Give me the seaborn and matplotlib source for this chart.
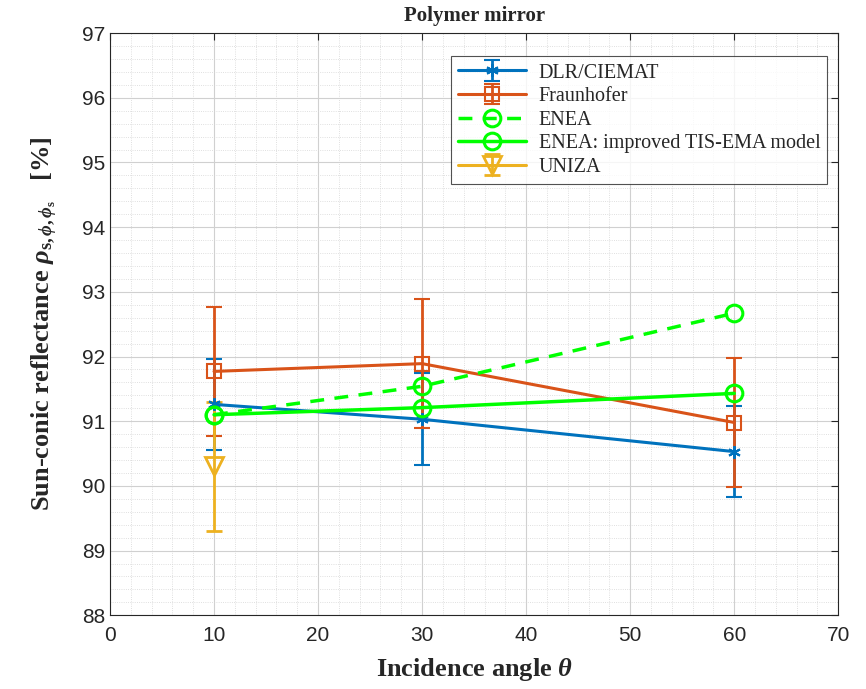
import numpy as np
import pandas as pd
import matplotlib
matplotlib.use("Agg")
import matplotlib.pyplot as plt
from matplotlib.ticker import MultipleLocator
import seaborn as sns

# values
angles = [10, 30, 60]
dlr = [91.26, 91.03, 90.53]
dlr_err = [0.70, 0.71, 0.70]
fraunhofer = [91.77, 91.89, 90.98]
fraunhofer_err = [1.0, 1.0, 1.0]
enea = [91.10, 91.54, 92.67]
enea_tis = [91.10, 91.21, 91.43]
uniza_angle = [10]
uniza = [90.30]
uniza_err = [1.0]

c_blue = "#0072BD"
c_orange = "#D95319"
c_green = "#00FF00"
c_yellow = "#EDB120"

sns.set_style("white")
plt.rcParams["font.family"] = ["Liberation Sans", "DejaVu Sans"]
plt.rcParams["mathtext.fontset"] = "custom"
plt.rcParams["mathtext.rm"] = "Liberation Serif:bold"
plt.rcParams["mathtext.it"] = "Liberation Serif:italic:bold"
plt.rcParams["mathtext.bf"] = "Liberation Serif:bold"

fig = plt.figure(figsize=(8.66, 6.89), dpi=100)
ax = fig.add_axes([0.127, 0.107, 0.841, 0.845])

lw = 2.2
ax.errorbar(angles, dlr, yerr=dlr_err, color=c_blue, lw=lw, marker=(6, 2, 0),
            ms=9, mew=1.5, capsize=6, capthick=2, elinewidth=2, label="DLR/CIEMAT", zorder=3)
ax.errorbar(angles, fraunhofer, yerr=fraunhofer_err, color=c_orange, lw=lw, marker="s",
            ms=10, mfc="none", mew=1.5, capsize=6, capthick=2, elinewidth=2,
            label="Fraunhofer", zorder=3)

df_enea = pd.DataFrame({"angle": angles, "val": enea})
df_tis = pd.DataFrame({"angle": angles, "val": enea_tis})
sns.lineplot(data=df_enea, x="angle", y="val", ax=ax, color=c_green, lw=2.5,
             linestyle=(0, (4, 3)), marker="o", ms=12, mfc="none", mec=c_green, mew=2.2,
             label="ENEA", zorder=4)
sns.lineplot(data=df_tis, x="angle", y="val", ax=ax, color=c_green, lw=2.5,
             marker="o", ms=12, mfc="none", mec=c_green, mew=2.2,
             label="ENEA: improved TIS-EMA model", zorder=4)

ax.errorbar(uniza_angle, uniza, yerr=uniza_err, color=c_yellow, lw=lw, marker="v",
            ms=13, mfc="none", mew=2, capsize=6, capthick=2, elinewidth=2,
            label="UNIZA", zorder=3)

ax.set_xlim(0, 70)
ax.set_ylim(88, 97)
ax.xaxis.set_major_locator(MultipleLocator(10))
ax.xaxis.set_minor_locator(MultipleLocator(2))
ax.yaxis.set_major_locator(MultipleLocator(1))
ax.yaxis.set_minor_locator(MultipleLocator(0.2))
ax.grid(which="major", color="#d0d0d0", lw=0.8, ls="-")
ax.grid(which="minor", color="#d5d5d5", lw=0.6, ls=":")
ax.set_axisbelow(True)
ax.tick_params(which="major", direction="in", length=5, labelsize=15, colors="#262626",
               top=True, right=True)
ax.tick_params(axis="x", pad=8)
ax.tick_params(which="minor", length=0)
for s in ax.spines.values():
    s.set_color("#262626")
    s.set_linewidth(0.8)

serif = ["Liberation Serif", "DejaVu Serif"]
ax.set_title("Polymer mirror", fontsize=15, fontweight="bold", family=serif, pad=9)
ax.set_xlabel(r"Incidence angle $\theta$", fontsize=19, fontweight="bold",
              family=serif, labelpad=8)
ax.set_ylabel(r"Sun-conic reflectance $\rho_{\mathrm{s},\phi,\phi_\mathrm{s}}$   [%]",
              fontsize=19, fontweight="bold", family=serif, labelpad=16)

handles, labels = ax.get_legend_handles_labels()
order = ["DLR/CIEMAT", "Fraunhofer", "ENEA", "ENEA: improved TIS-EMA model", "UNIZA"]
hmap = dict(zip(labels, handles))
leg = ax.legend([hmap[k] for k in order], order, loc="upper right",
                bbox_to_anchor=(0.985, 0.96), borderaxespad=0,
                prop={"family": serif, "size": 14.5},
                frameon=True, fancybox=False, edgecolor="#262626", handlelength=3.4,
                handletextpad=0.6, labelspacing=0.22, borderpad=0.35)
leg.get_frame().set_linewidth(0.8)

fig.savefig("out.png", dpi=100)
